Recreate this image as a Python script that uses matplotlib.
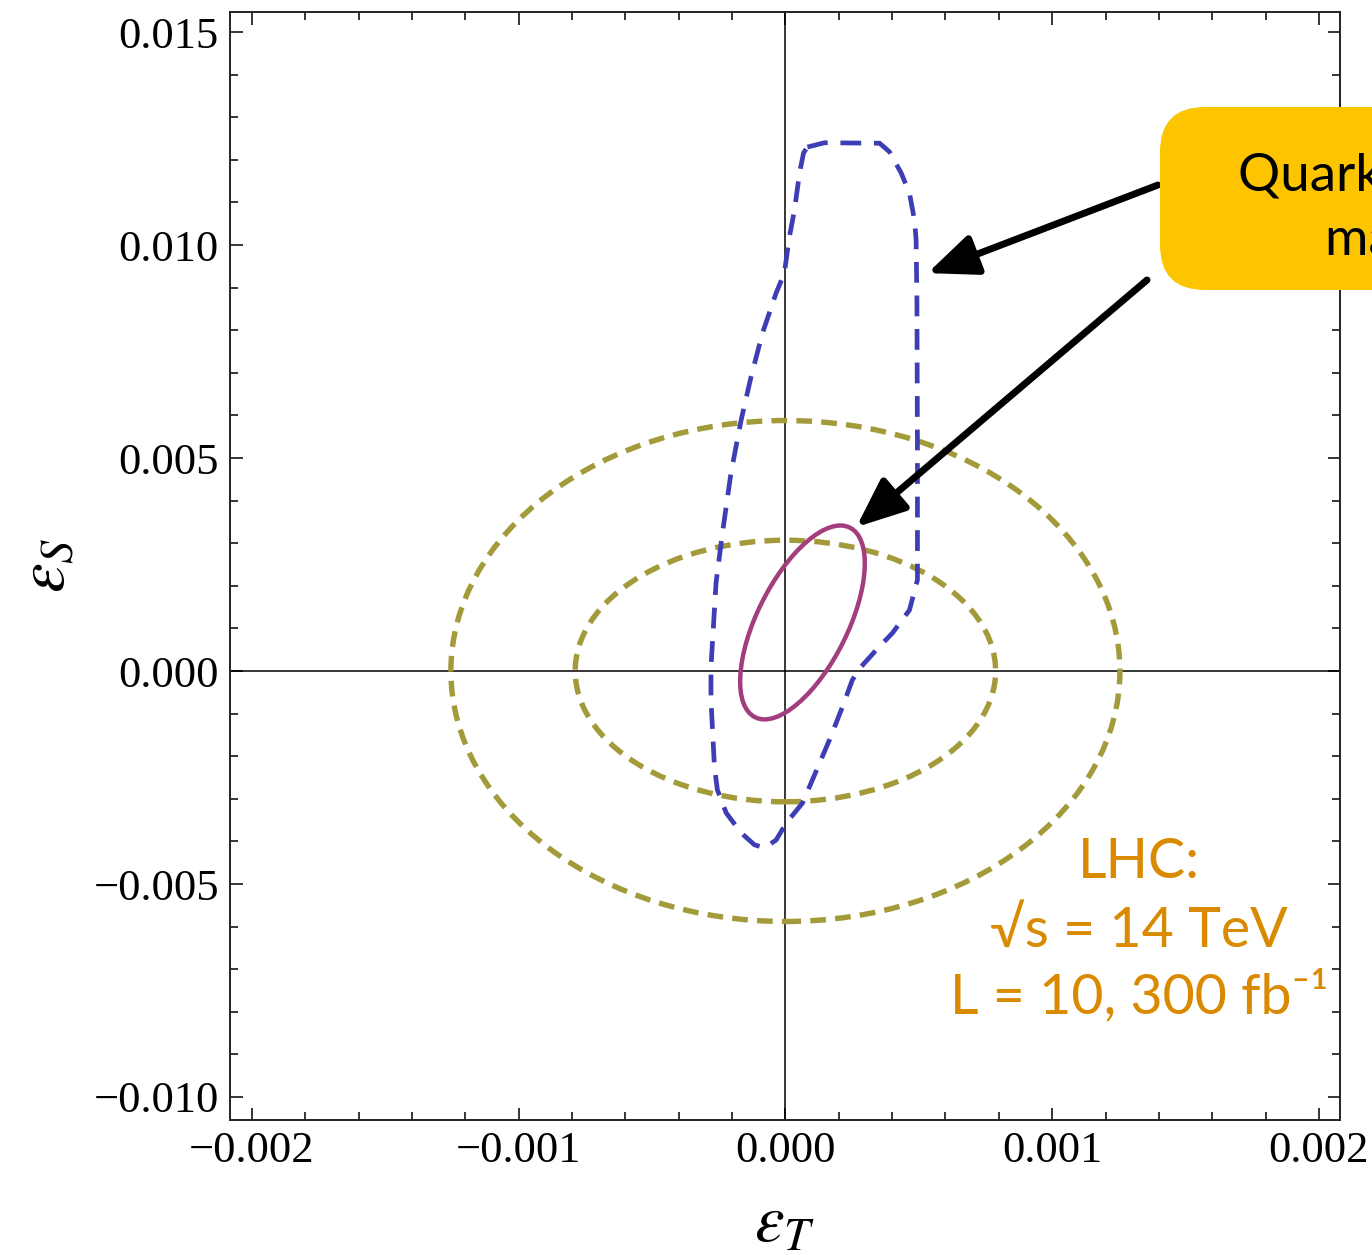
import numpy as np
import matplotlib
matplotlib.use('Agg')
import matplotlib.pyplot as plt
from matplotlib.patches import Ellipse, FancyBboxPatch
from matplotlib.ticker import MultipleLocator, FuncFormatter
from matplotlib.transforms import IdentityTransform

# 軸の範囲
x_range = [-0.002082, 0.002079]
y_range = [-0.01054, 0.01547]

# LHC の楕円 (黄土色, 破線): 中心と半径
lhc_cx = [0.0, 0.0]
lhc_cy = [0.0, 0.0]
lhc_rx = [0.001254, 0.000788]
lhc_ry = [0.00588, 0.00307]

# 紫の楕円 (実線)
purple_center = (6.4e-5, 0.00114)
purple_width = 4.56e-3
purple_height = 3.7e-4
purple_angle = 86.4

# 青い破線の領域 (図から読み取った点)
blue_x = [8.25e-5, 0.000146, 0.000353, 0.000390, 0.000434, 0.000465, 0.000484,
          0.000490, 0.000493, 0.000495, 0.000495, 0.000465, 0.000401, 0.000340,
          0.000284, 0.000251, 0.000214, 0.000165, 0.000101, 0.000064, 0.000003,
          -0.000035, -0.000079, -0.000116, -0.000166, -0.000222, -0.000255,
          -0.000266, -0.000279, -0.000279, -0.000260, -0.000236, -0.000204,
          -0.000166, -0.000129, -0.000086, -0.000035, -0.000004, 0.000015,
          0.000034, 0.000053, 0.000068, 8.25e-5]
blue_y = [0.01230, 0.01240, 0.01239, 0.01219, 0.01169, 0.01122, 0.01058,
          0.01012, 0.00871, 0.00519, 0.00214, 0.00143, 0.00089, 0.00049,
          0.00010, -0.00021, -0.00084, -0.00162, -0.00256, -0.00310, -0.00357,
          -0.00397, -0.00415, -0.00408, -0.00380, -0.00333, -0.00279,
          -0.00225, -0.00068, 0.00009, 0.00207, 0.00324, 0.00465,
          0.00589, 0.00690, 0.00793, 0.00887, 0.00934, 0.01019,
          0.01082, 0.01169, 0.01216, 0.01230]

# 矢印の先 (データ座標) と根元 (図のピクセル, 上から)
arrow_tip = [(0.000533, 0.00934), (0.000266, 0.00338)]
arrow_base = [(1158, 185), (1147, 280)]

box_lines = ["Quark bilinear charges", "matrix elements"]
lhc_lines = ["LHC:", "\u221as = 14 TeV", "L = 10, 300 fb\u207b\u00b9"]

W, H = 1372, 1255

plt.rcParams['mathtext.fontset'] = 'stix'
fig = plt.figure(figsize=(W / 100, H / 100), dpi=100)
ax = fig.add_axes([230 / W, 1 - 1120 / H, 1110 / W, 1108 / H])

# 座標軸の線
ax.axhline(0, color='black', lw=1.1, zorder=1)
ax.axvline(0, color='black', lw=1.1, zorder=1)

olive = '#A39A3A'
for cx, cy, rx, ry in zip(lhc_cx, lhc_cy, lhc_rx, lhc_ry):
    e = Ellipse((cx, cy), 2 * rx, 2 * ry, fill=False, edgecolor=olive,
                lw=3.9, linestyle=(0, (2.9, 1.7)), zorder=2)
    ax.add_patch(e)

ax.plot(blue_x, blue_y, color='#3D3DB5', lw=3.4, dashes=(4.4, 2.7), zorder=3)

e = Ellipse(purple_center, purple_width, purple_height, angle=purple_angle,
            fill=False, edgecolor='#A23E7E', lw=3.2, zorder=4)
ax.add_patch(e)

ax.set_xlim(x_range)
ax.set_ylim(y_range)

ax.xaxis.set_major_locator(MultipleLocator(0.001))
ax.xaxis.set_minor_locator(MultipleLocator(0.0002))
ax.yaxis.set_major_locator(MultipleLocator(0.005))
ax.yaxis.set_minor_locator(MultipleLocator(0.001))

def fmt(v, pos):
    if abs(v) < 1e-12:
        v = 0.0
    return ('%.3f' % v).replace('-', '\u2212')

ax.xaxis.set_major_formatter(FuncFormatter(fmt))
ax.yaxis.set_major_formatter(FuncFormatter(fmt))
ax.tick_params(which='both', direction='in', top=True, right=True, width=1.1,
               labelsize=32, pad=8)
ax.tick_params(which='major', length=9)
ax.tick_params(which='minor', length=5.5)
for lab in ax.get_xticklabels() + ax.get_yticklabels():
    lab.set_fontfamily('Liberation Serif')
for s in ax.spines.values():
    s.set_linewidth(1.4)
    s.set_color('#222222')

fig.text(785 / W, 1 - 1222 / H, r'$\varepsilon_T$', fontsize=48,
         ha='center', va='center')
fig.text(45 / W, 1 - 565 / H, r'$\varepsilon_S$', fontsize=48,
         ha='center', va='center', rotation=90)

# 黄色い吹き出し
box = FancyBboxPatch((1160, H - 290), 320, 183,
                     boxstyle='round,pad=0,rounding_size=45',
                     transform=IdentityTransform(), facecolor='#FCC500',
                     edgecolor='none', zorder=10)
fig.patches.append(box)
fig.text(1238 / W, 1 - 190 / H, box_lines[0], fontsize=38, family='Lato',
         ha='left', va='baseline', zorder=11)
fig.text(1325 / W, 1 - 255 / H, box_lines[1], fontsize=38, family='Lato',
         ha='left', va='baseline', zorder=11)

for tip, base in zip(arrow_tip, arrow_base):
    ax.annotate('', xy=tip, xycoords='data',
                xytext=(base[0], H - base[1]), textcoords='figure pixels',
                arrowprops=dict(arrowstyle='-|>,head_length=1.0,head_width=0.42',
                                color='black', lw=5.0, mutation_scale=30,
                                shrinkA=0, shrinkB=0),
                annotation_clip=False, zorder=12)

# LHC の説明
orange = '#DA8A00'
for txt, yb in zip(lhc_lines, [878, 947, 1013]):
    fig.text(1139 / W, 1 - yb / H, txt, fontsize=40, color=orange,
             family=['Lato', 'DejaVu Sans'], ha='center', va='baseline')

fig.savefig('out.png', dpi=100)
